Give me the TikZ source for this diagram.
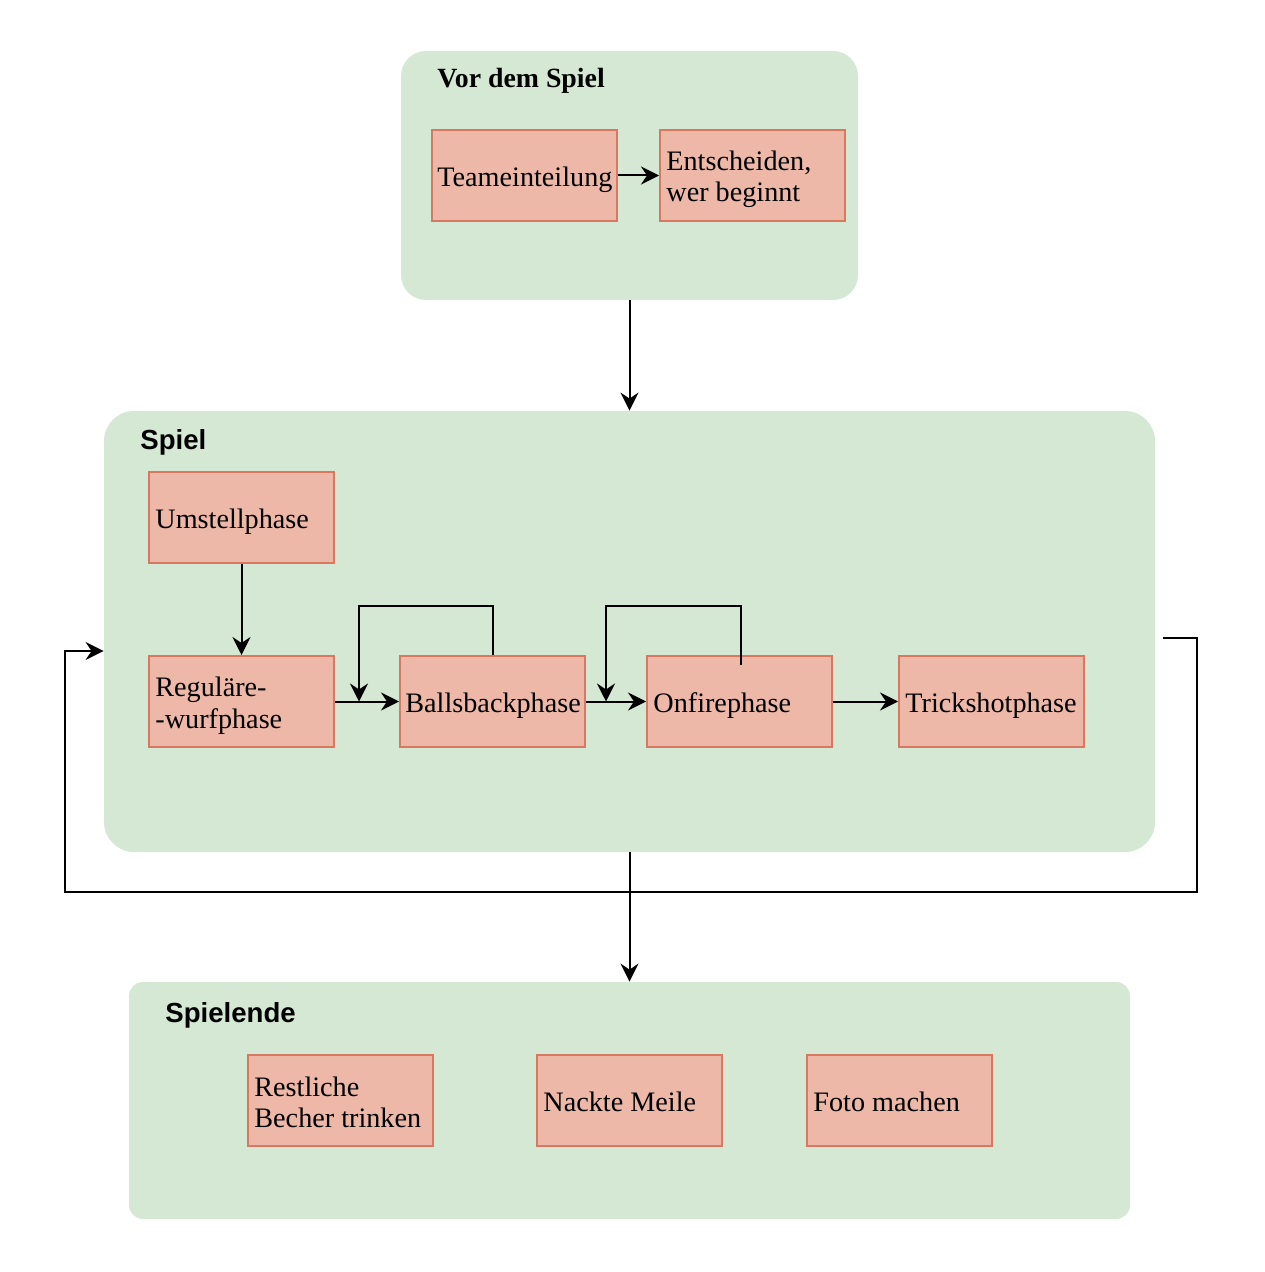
\documentclass[tikz,border=0pt]{standalone}
\usepackage{fontspec}
\setmainfont{Liberation Serif}
\newfontfamily\titlesans{Liberation Sans}
\usetikzlibrary{arrows.meta}
\definecolor{grp}{HTML}{D5E8D4}
\definecolor{boxfill}{HTML}{EDB8A7}
\definecolor{boxline}{HTML}{D97860}
\newcommand\tstrut{\rule{0pt}{13.6pt}}
\newcommand\bstrut{\rule[-2.2pt]{0pt}{2.2pt}}
\begin{document}
\begin{tikzpicture}[x=0.5pt,y=-0.5pt,
  group/.style={fill=grp, draw=none, inner sep=0pt},
  phase/.style={fill=boxfill, draw=boxline, line width=1pt, minimum width=92.5pt, minimum height=45.5pt, inner sep=0pt},
  lbl/.style={anchor=west, align=left, inner sep=0pt, font=\fontsize{14.1}{15.9}\selectfont},
  ttlserif/.style={anchor=base west, inner sep=0pt, font=\fontsize{13.9}{15.9}\selectfont\bfseries},
  ttlsans/.style={anchor=base west, inner sep=0pt, font=\fontsize{13.8}{15.9}\selectfont\titlesans\bfseries},
  arr/.style={-{Stealth[length=9pt,width=9pt,inset=3pt]}, line width=1pt},
  ln/.style={line width=1pt}]
\useasboundingbox[fill=white] (0,0) rectangle (1264,1272);

% containers
\node[group, rounded corners=12.5pt, minimum width=228.5pt, minimum height=124.5pt] (vor) at (629.5,175.5) {};
\node[group, rounded corners=15pt, minimum width=525.5pt, minimum height=220.5pt] (spiel) at (629.5,631.5) {};
\node[group, rounded corners=7pt, minimum width=500.5pt, minimum height=118.5pt] (ende) at (629.5,1100.5) {};

\node[ttlserif] (t-vor) at (437,88) {Vor dem Spiel};
\node[ttlsans] (t-spiel) at (140,449) {Spiel};
\node[ttlsans] (t-ende) at (165,1022) {Spielende};

% phases
\node[phase] (team) at (524.5,175.5) {};
\node[phase] (ent) at (752.5,175.5) {};
\node[phase] (umst) at (241.5,517.5) {};
\node[phase] (reg) at (241.5,701.5) {};
\node[phase] (ball) at (492.5,701.5) {};
\node[phase] (onf) at (739.5,701.5) {};
\node[phase] (trick) at (991.5,701.5) {};
\node[phase] (rest) at (340.5,1100.5) {};
\node[phase] (nackt) at (629.5,1100.5) {};
\node[phase] (foto) at (899.5,1100.5) {};

\node[lbl] (team-l) at ([xshift=3pt]team.west) {\tstrut Teameinteilung\bstrut};
\node[lbl] (ent-l) at ([xshift=3.5pt]ent.west) {\tstrut Entscheiden,\\wer beginnt\bstrut};
\node[lbl] (umst-l) at ([xshift=3.5pt]umst.west) {\tstrut Umstellphase\bstrut};
\node[lbl] (reg-l) at ([xshift=3.5pt]reg.west) {\tstrut Reguläre-\\-wurfphase\bstrut};
\node[lbl] (ball-l) at ([xshift=3pt]ball.west) {\tstrut Ballsbackphase\bstrut};
\node[lbl] (onf-l) at ([xshift=3.5pt]onf.west) {\tstrut Onfirephase\bstrut};
\node[lbl] (trick-l) at ([xshift=3.5pt]trick.west) {\tstrut Trickshotphase\bstrut};
\node[lbl] (rest-l) at ([xshift=3.5pt]rest.west) {\tstrut Restliche\\Becher trinken\bstrut};
\node[lbl] (nackt-l) at ([xshift=3.5pt]nackt.west) {\tstrut Nackte Meile\bstrut};
\node[lbl] (foto-l) at ([xshift=3.5pt]foto.west) {\tstrut Foto machen\bstrut};

% connectors
\draw[arr] (team.east) -- (ent.west);
\draw[arr] (vor.south) -- (spiel.north);
\draw[arr] (umst.south) -- (reg.north);
\draw[arr] (reg.east) -- (ball.west);
\draw[arr] (ball.east) -- (onf.west);
\draw[arr] (onf.east) -- (trick.west);
\draw[arr] (spiel.south) -- (ende.north);

\coordinate (j1) at (359,701.5);
\coordinate (j2) at (606,701.5);
\draw[arr] (ball.north) -- ++(0,-49) -| (j1);
\path (onf.north) ++(1.5,10) coordinate (o1);
\draw[arr] (o1) -- ++(0,-59) -| (j2);

\path (spiel.east) ++(8,6.5) coordinate (r0);
\path (spiel.west) ++(0,19.5) coordinate (lin);
\draw[arr] (r0) -- (1197,638) -- (1197,892) -- (65,892) -- (65,651) -- (lin);
\end{tikzpicture}
\end{document}
